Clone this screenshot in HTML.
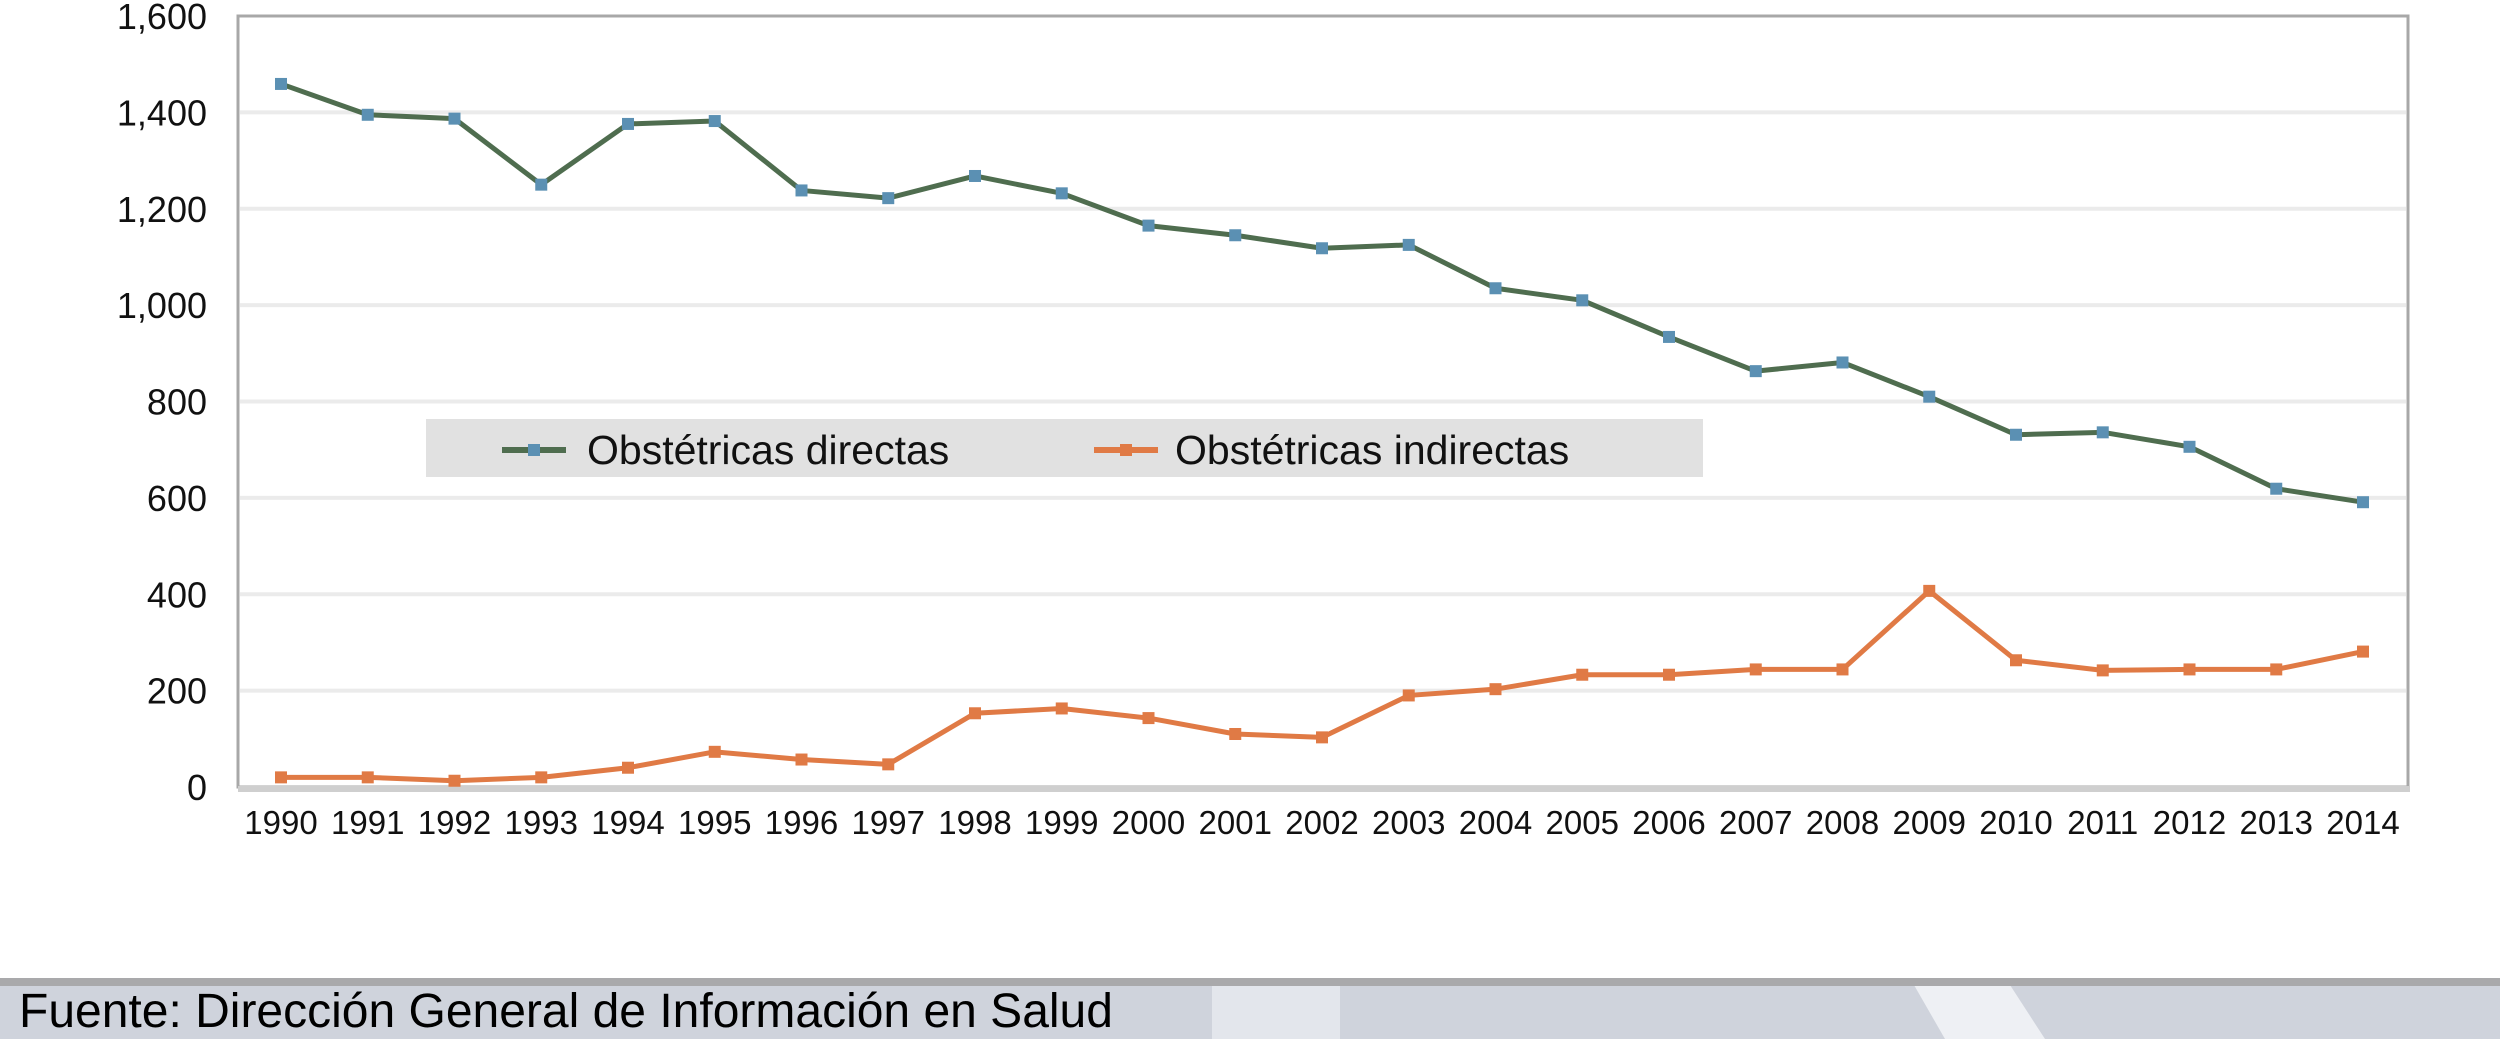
<!DOCTYPE html>
<html><head><meta charset="utf-8"><style>
html,body{margin:0;padding:0;background:#fff;}
svg{display:block;font-family:"Liberation Sans",Arial,sans-serif;}
</style></head><body>
<svg id="chart" width="2500" height="1039" viewBox="0 0 2500 1039" xmlns="http://www.w3.org/2000/svg">
<rect x="0" y="0" width="2500" height="1039" fill="#fff"/>
<g id="grid"></g>
<rect x="238" y="16" width="2170" height="771" fill="none" stroke="#a8a8a8" stroke-width="3"/>
<line x1="238" y1="789" x2="2410" y2="789" stroke="#cfcfcf" stroke-width="6"/>
<g id="yticks"></g>
<g id="xticks"></g>
<g id="series"></g>
<g>
<rect x="426" y="419" width="1277" height="58" fill="#e1e1e1"/>
<g>
<line x1="502" y1="450" x2="566" y2="450" stroke="#4f6d4f" stroke-width="6"/>
<rect x="528" y="444" width="12" height="12" fill="#5b90b3"/>
<text x="587" y="464" font-size="41" fill="#111">Obstétricas directas</text>
</g>
<g>
<line x1="1094" y1="450" x2="1158" y2="450" stroke="#e07a45" stroke-width="6"/>
<rect x="1120" y="444" width="12" height="12" fill="#e07a45"/>
<text x="1175" y="464" font-size="41" fill="#111">Obstétricas indirectas</text>
</g>
</g>
<g>
<rect x="0" y="978" width="2500" height="61" fill="#cfd3dc"/>
<polygon points="1212,985 1340,985 1340,1039 1212,1039" fill="#e3e6ec"/>
<polygon points="1914,985 2010,985 2045,1039 1945,1039" fill="#eef0f4"/>
<rect x="0" y="978" width="2500" height="8" fill="#a9a9ab"/>
<text x="19" y="1027" font-size="48" fill="#000">Fuente: Dirección General de Información en Salud</text>
</g>
</svg>
<script>
const years = ["1990","1991","1992","1993","1994","1995","1996","1997","1998","1999","2000","2001","2002","2003","2004","2005","2006","2007","2008","2009","2010","2011","2012","2013","2014"];
const directas = [1459,1395,1387,1250,1376,1382,1238,1222,1268,1232,1165,1145,1118,1125,1035,1010,934,863,881,810,731,736,706,619,591];
const indirectas = [20,20,13,20,40,73,57,47,153,163,143,110,103,190,203,233,233,244,244,407,263,242,244,244,281];
const yTicks = [0,200,400,600,800,1000,1200,1400,1600];
const yTickLabels = ["0","200","400","600","800","1,000","1,200","1,400","1,600"];
const NS="http://www.w3.org/2000/svg";
function xPos(i){return 281+i*86.75;}
function yPos(v){return 787-v*(787-16)/1600;}
function mk(tag,attrs,parent){const e=document.createElementNS(NS,tag);for(const k in attrs)e.setAttribute(k,attrs[k]);parent.appendChild(e);return e;}
const grid=document.getElementById('grid'),yt=document.getElementById('yticks'),xt=document.getElementById('xticks'),ser=document.getElementById('series');
yTicks.forEach((v,i)=>{
  if(v>0&&v<1600){const l=mk('line',{x1:240,x2:2406,y1:yPos(v),y2:yPos(v),stroke:'#ebebeb','stroke-width':4},grid);
  
  }
  const t=mk('text',{x:207,y:yPos(v)+13,'font-size':36,'text-anchor':'end',fill:'#111'},yt);
  t.textContent=yTickLabels[i];
  
  
});
years.forEach((y,i)=>{
  const t=mk('text',{x:xPos(i),y:834,'font-size':33,'text-anchor':'middle',fill:'#111'},xt);
  t.textContent=y;
  
  
});
function drawSeries(vals,lineCol,markCol,name){
  const pts=vals.map((v,i)=>xPos(i)+','+yPos(v)).join(' ');
  const pl=mk('polyline',{points:pts,fill:'none',stroke:lineCol,'stroke-width':5,'stroke-linejoin':'round'},ser);
  
  
  vals.forEach((v,i)=>{
    const r=mk('rect',{x:xPos(i)-6,y:yPos(v)-6,width:12,height:12,fill:markCol},ser);
    
    
  });
}
drawSeries(directas,'#4f6d4f','#5b90b3','directas');
drawSeries(indirectas,'#e07a45','#e07a45','indirectas');
</script>
</body></html>
